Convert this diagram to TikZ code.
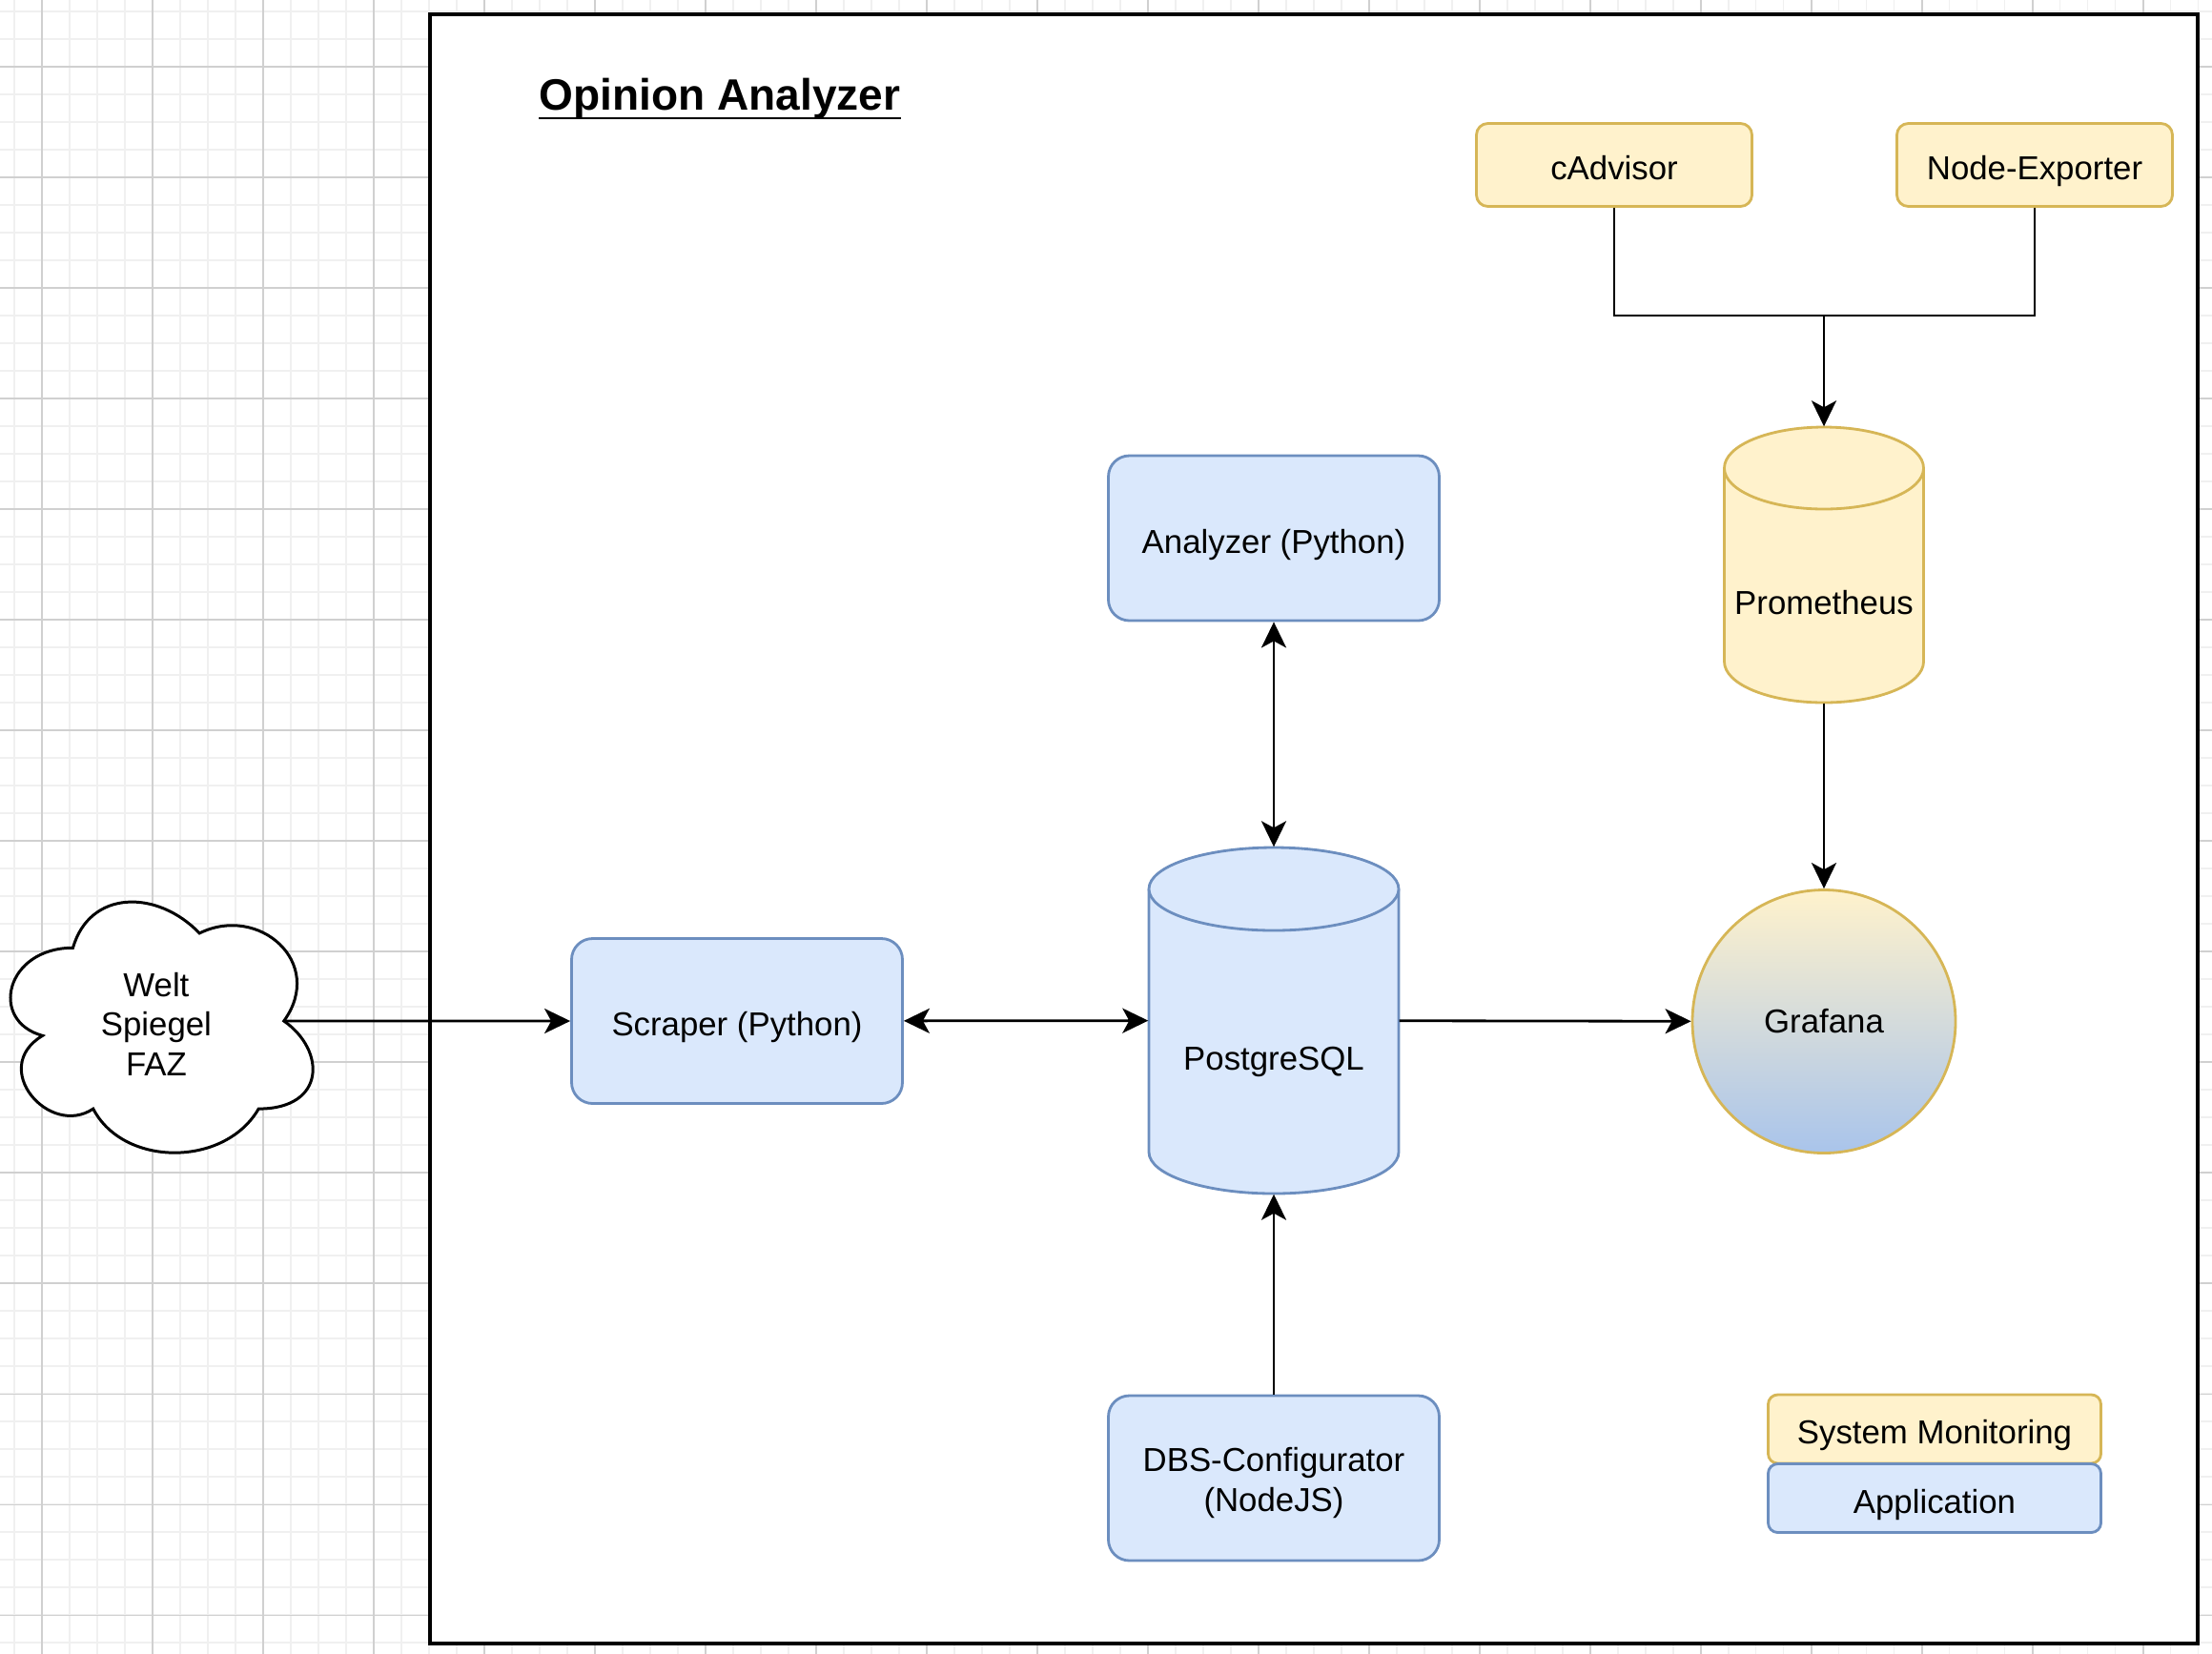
\documentclass[tikz,border=0pt]{standalone}
\usepackage{fontspec}
\setmainfont{Liberation Sans}
\usetikzlibrary{shapes,arrows.meta,positioning,calc}
\definecolor{appfill}{HTML}{DAE8FC}
\definecolor{appline}{HTML}{6C8EBF}
\definecolor{monfill}{HTML}{FFF2CC}
\definecolor{monline}{HTML}{D6B656}
\definecolor{gfbottom}{HTML}{A9C4EB}
\definecolor{minorgrid}{HTML}{F0F0F0}
\definecolor{majorgrid}{HTML}{D0D0D0}
\newcommand\oafont{\fontsize{9.9pt}{11.8pt}\selectfont}
\newcommand\oatitlefont{\fontsize{13.1pt}{15.7pt}\selectfont\bfseries}
\tikzstyle{app} = [rectangle,rounded corners=0.22cm,draw=appline,fill=appfill,line width=0.8pt,minimum width=3.47cm,minimum height=1.73cm,align=center,font=\oafont]
\tikzstyle{mon} = [rectangle,rounded corners=0.12cm,draw=monline,fill=monfill,line width=0.8pt,minimum width=2.89cm,minimum height=0.87cm,font=\oafont]
\tikzstyle{legendbox} = [rectangle,rounded corners=0.1cm,line width=0.8pt,minimum width=3.49cm,minimum height=0.72cm,font=\oafont]
\tikzstyle{oneline} = [text height=0.36cm,text depth=0.05cm]
\tikzstyle{db} = [rectangle,inner sep=0pt,text height=1.04cm,text depth=0pt,font=\oafont]
\tikzstyle{flow} = [line width=0.8pt,->]
\tikzset{>={Stealth[length=2.7mm,width=2.6mm,inset=0.7mm]}}
\newcommand\dbbody[5]{%
  \begin{scope}[shift={(#1)}]
    \filldraw[#5] (-#2,#3-#4) -- (-#2,-#3+#4) arc[start angle=180,end angle=360,x radius=#2,y radius=#4] -- (#2,#3-#4) arc[start angle=0,end angle=180,x radius=#2,y radius=#4] -- cycle;
    \draw[#5] (-#2,#3-#4) arc[start angle=180,end angle=360,x radius=#2,y radius=#4];
  \end{scope}}

\begin{document}
\begin{tikzpicture}
    \useasboundingbox (0,0) rectangle (23.2,-17.34);
    \clip (0,0) rectangle (23.2,-17.34);
    \draw [minorgrid,line width=0.3pt,shift={(0.15,-0.12)},step=0.29] (-1,-18) grid (24,1);
    \draw [majorgrid,line width=0.3pt,shift={(0.44,-0.70)},step=1.16] (-1,-18) grid (24,1);
    \draw [line width=1pt,fill=white] (4.51,-0.15) rectangle (23.05,-17.24);
    \node [anchor=base west,inner sep=0pt,font=\oatitlefont] (title) at (5.65,-1.15) {Opinion Analyzer};
    \draw [line width=0.7pt] ([yshift=-0.09cm]title.base west) -- ([yshift=-0.09cm]title.base east);
    \begin{scope}[shift={(-0.12,-9.175)},x=3.54cm,y=-3.07cm]
      \draw [line width=0.85pt,fill=white] (0.25,0.25) .. controls (0.05,0.25) and (0,0.5) .. (0.16,0.55) .. controls (0,0.66) and (0.18,0.9) .. (0.31,0.8) .. controls (0.4,1) and (0.7,1) .. (0.8,0.8) .. controls (1,0.8) and (1,0.6) .. (0.875,0.5) .. controls (1,0.3) and (0.8,0.1) .. (0.625,0.2) .. controls (0.5,0.05) and (0.3,0.05) .. (0.25,0.25) -- cycle;
      \coordinate (webout) at (0.875,0.5);
      \node [align=center,font=\oafont] (web) at (0.497,0.51) {Welt\\Spiegel\\FAZ};
    \end{scope}
    \node [app,oneline] (scraper) at (7.73,-10.71) {Scraper (Python)};
    \node [app,oneline] (analyzer) at (13.36,-5.645) {Analyzer (Python)};
    \node [app] (dbs) at (13.36,-15.505) {\rule{0pt}{0.355cm}DBS-Configurator\\(NodeJS)};
    \coordinate (pgc) at (13.36,-10.705);
    \dbbody{pgc}{1.31}{1.815}{0.435}{draw=appline,fill=appfill,line width=0.8pt}
    \node [db,minimum width=2.62cm,minimum height=3.63cm] (pg) at (pgc) {PostgreSQL};
    \node [mon,oneline] (cadvisor) at (16.93,-1.73) {cAdvisor};
    \node [mon,oneline] (nodeexp) at (21.34,-1.73) {Node-Exporter};
    \coordinate (promc) at (19.13,-5.925);
    \dbbody{promc}{1.045}{1.445}{0.43}{draw=monline,fill=monfill,line width=0.8pt}
    \node [db,minimum width=2.09cm,minimum height=2.89cm] (prom) at (promc) {Prometheus};
    \node [circle,draw=monline,line width=0.8pt,top color=monfill,bottom color=gfbottom,minimum size=2.76cm,font=\oafont] (grafana) at (19.13,-10.715) {Grafana};
    \node [legendbox,oneline,draw=monline,fill=monfill] (legmon) at (20.29,-14.99) {System Monitoring};
    \node [legendbox,oneline,draw=appline,fill=appfill] (legapp) at (20.29,-15.715) {Application};
    \coordinate (merge) at (19.13,-3.31);
    \draw [flow] (webout) -- (scraper.west);
    \draw [flow,<->] (scraper) -- (pg);
    \draw [flow,<->] (analyzer) -- (pg);
    \draw [flow] (dbs) -- (pg);
    \draw [flow] (pg) -- (grafana);
    \draw [flow] (prom) -- (grafana);
    \draw [flow] (cadvisor.south) |- (merge) -- (prom.north);
    \draw [line width=0.8pt] (nodeexp.south) |- (merge);
\end{tikzpicture}
\end{document}
